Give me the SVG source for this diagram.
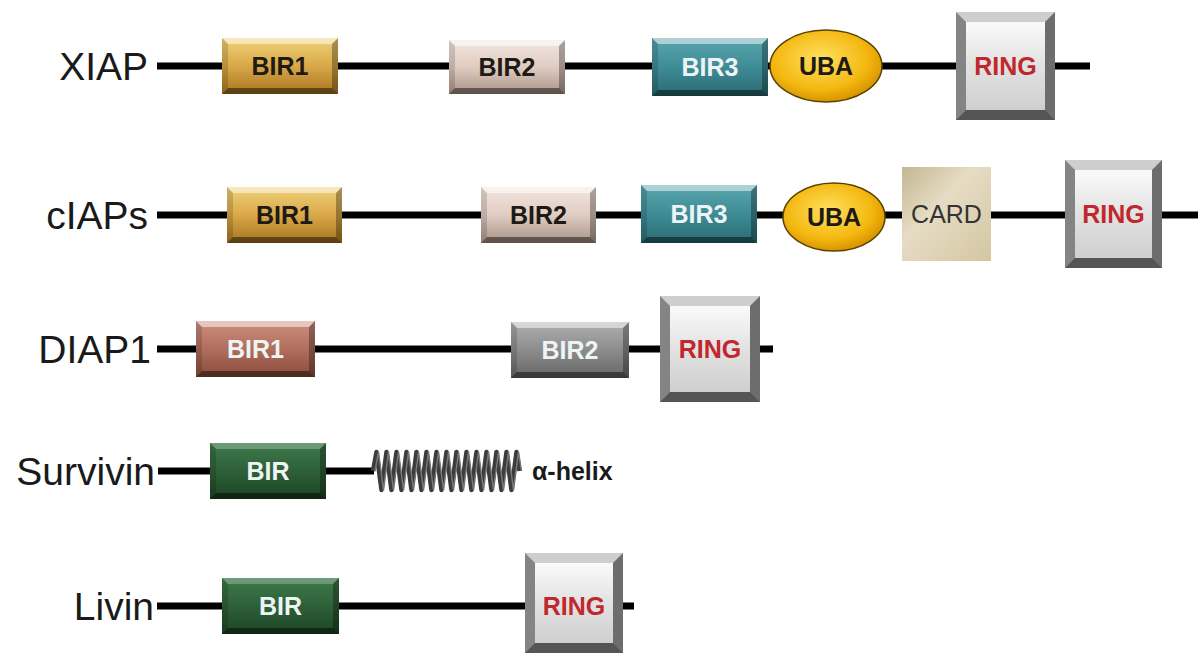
<svg xmlns="http://www.w3.org/2000/svg" width="1203" height="653" viewBox="0 0 1203 653">
<defs>
<style>
.lbl{font-family:"Liberation Sans",Arial,sans-serif;font-size:39px;fill:#1a1a1a;text-anchor:end}
.bt{font-family:"Liberation Sans",Arial,sans-serif;font-size:25px;font-weight:bold;text-anchor:middle}
.dk{fill:#1e1a14}.lt{fill:#eef4f4}.red{fill:#c0282e}
.ln{stroke:#000;stroke-width:7;fill:none}
.hl{fill:#fff;fill-opacity:.5}.sh{fill:#000;fill-opacity:.45}.sl{fill:#000;fill-opacity:.15}.sr{fill:#000;fill-opacity:.3}
.frame{fill:#9c9c9c}
</style>
<linearGradient id="gold" x1="0" y1="0" x2="0" y2="1"><stop offset="0" stop-color="#f0d27a"/><stop offset=".5" stop-color="#d9a848"/><stop offset="1" stop-color="#a8741f"/></linearGradient>
<linearGradient id="beige" x1="0" y1="0" x2="0" y2="1"><stop offset="0" stop-color="#f2e6e0"/><stop offset=".5" stop-color="#e0ccc2"/><stop offset="1" stop-color="#a99388"/></linearGradient>
<linearGradient id="teal" x1="0" y1="0" x2="0" y2="1"><stop offset="0" stop-color="#5aa6ae"/><stop offset=".5" stop-color="#3e8c96"/><stop offset="1" stop-color="#2a6a72"/></linearGradient>
<linearGradient id="brown" x1="0" y1="0" x2="0" y2="1"><stop offset="0" stop-color="#cf9080"/><stop offset=".5" stop-color="#b06e5c"/><stop offset="1" stop-color="#8a4c3c"/></linearGradient>
<linearGradient id="gray" x1="0" y1="0" x2="0" y2="1"><stop offset="0" stop-color="#b0b0b0"/><stop offset=".5" stop-color="#8c8c8c"/><stop offset="1" stop-color="#666"/></linearGradient>
<linearGradient id="green" x1="0" y1="0" x2="0" y2="1"><stop offset="0" stop-color="#3e7a4c"/><stop offset=".5" stop-color="#2e6038"/><stop offset="1" stop-color="#1e4426"/></linearGradient>
<linearGradient id="silver" x1="0" y1="0" x2="0" y2="1"><stop offset="0" stop-color="#fafafa"/><stop offset=".5" stop-color="#e2e2e2"/><stop offset="1" stop-color="#cfcfcf"/></linearGradient>
<linearGradient id="card" x1="0" y1="0" x2="1" y2="1"><stop offset="0" stop-color="#c4b692"/><stop offset=".4" stop-color="#e6dcc4"/><stop offset="1" stop-color="#d4c6a2"/></linearGradient>
<radialGradient id="uba" cx=".45" cy=".4" r=".6"><stop offset="0" stop-color="#ffe060"/><stop offset=".7" stop-color="#f4b810"/><stop offset="1" stop-color="#d89400"/></radialGradient>
</defs>
<rect width="1203" height="653" fill="#fff"/>

<g id="connectors">
<line class="ln" x1="157" y1="66" x2="1090" y2="66"/>
<line class="ln" x1="157" y1="215" x2="1198" y2="215"/>
<line class="ln" x1="157" y1="349" x2="773" y2="349"/>
<line class="ln" x1="158" y1="471" x2="374" y2="471"/>
<line class="ln" x1="157" y1="606" x2="634" y2="606"/>
</g>

<g id="labels">
<text class="lbl" x="148" y="80">XIAP</text>
<text class="lbl" x="148" y="229">cIAPs</text>
<text class="lbl" x="151" y="363">DIAP1</text>
<text class="lbl" x="155" y="485">Survivin</text>
<text class="lbl" x="154" y="620">Livin</text>
</g>

<g id="xiap-bir1" transform="translate(222,38)">
<rect width="116" height="56" fill="url(#gold)"/>
<path class="hl" d="M0,0H116L110,6H6Z"/><path class="sh" d="M0,56H116L110,50H6Z"/><path class="sl" d="M0,0L6,6V50L0,56Z"/><path class="sr" d="M116,0L110,6V50L116,56Z"/>
<text class="bt dk" x="58" y="37">BIR1</text>
</g>
<g id="xiap-bir2" transform="translate(449,40)">
<rect width="116" height="54" fill="url(#beige)"/>
<path class="hl" d="M0,0H116L110,6H6Z"/><path class="sh" d="M0,54H116L110,48H6Z"/><path class="sl" d="M0,0L6,6V48L0,54Z"/><path class="sr" d="M116,0L110,6V48L116,54Z"/>
<text class="bt dk" x="58" y="36">BIR2</text>
</g>
<g id="xiap-bir3" transform="translate(652,38)">
<rect width="116" height="58" fill="url(#teal)"/>
<path class="hl" d="M0,0H116L110,6H6Z"/><path class="sh" d="M0,58H116L110,52H6Z"/><path class="sl" d="M0,0L6,6V52L0,58Z"/><path class="sr" d="M116,0L110,6V52L116,58Z"/>
<text class="bt lt" x="58" y="38">BIR3</text>
</g>
<g id="xiap-uba">
<ellipse cx="826" cy="66" rx="56" ry="36" fill="url(#uba)" stroke="#5a4300" stroke-width="1.5"/>
<text class="bt dk" x="826" y="75">UBA</text>
</g>
<g id="xiap-ring" transform="translate(956,12)">
<rect class="frame" width="99" height="108"/>
<path class="hl" d="M0,0H99L89,10H10Z"/><path class="sh" d="M0,108H99L89,98H10Z"/><path class="sl" d="M0,0L10,10V98L0,108Z"/><path class="sr" d="M99,0L89,10V98L99,108Z"/>
<rect x="10" y="10" width="79" height="88" fill="url(#silver)"/>
<text class="bt red" x="49.5" y="63">RING</text>
</g>

<g id="ciaps-bir1" transform="translate(227,187)">
<rect width="115" height="56" fill="url(#gold)"/>
<path class="hl" d="M0,0H115L109,6H6Z"/><path class="sh" d="M0,56H115L109,50H6Z"/><path class="sl" d="M0,0L6,6V50L0,56Z"/><path class="sr" d="M115,0L109,6V50L115,56Z"/>
<text class="bt dk" x="57.5" y="37">BIR1</text>
</g>
<g id="ciaps-bir2" transform="translate(481,187)">
<rect width="115" height="56" fill="url(#beige)"/>
<path class="hl" d="M0,0H115L109,6H6Z"/><path class="sh" d="M0,56H115L109,50H6Z"/><path class="sl" d="M0,0L6,6V50L0,56Z"/><path class="sr" d="M115,0L109,6V50L115,56Z"/>
<text class="bt dk" x="57.5" y="37">BIR2</text>
</g>
<g id="ciaps-bir3" transform="translate(641,185)">
<rect width="116" height="58" fill="url(#teal)"/>
<path class="hl" d="M0,0H116L110,6H6Z"/><path class="sh" d="M0,58H116L110,52H6Z"/><path class="sl" d="M0,0L6,6V52L0,58Z"/><path class="sr" d="M116,0L110,6V52L116,58Z"/>
<text class="bt lt" x="58" y="38">BIR3</text>
</g>
<g id="ciaps-uba">
<ellipse cx="834" cy="217" rx="51" ry="34" fill="url(#uba)" stroke="#5a4300" stroke-width="1.5"/>
<text class="bt dk" x="834" y="226">UBA</text>
</g>
<g id="ciaps-card" transform="translate(902,167)">
<rect width="89" height="94" fill="url(#card)"/>
<text x="44.5" y="56" font-family="Liberation Sans, Arial, sans-serif" font-size="25" fill="#333" text-anchor="middle">CARD</text>
</g>
<g id="ciaps-ring" transform="translate(1065,160)">
<rect class="frame" width="97" height="108"/>
<path class="hl" d="M0,0H97L87,10H10Z"/><path class="sh" d="M0,108H97L87,98H10Z"/><path class="sl" d="M0,0L10,10V98L0,108Z"/><path class="sr" d="M97,0L87,10V98L97,108Z"/>
<rect x="10" y="10" width="77" height="88" fill="url(#silver)"/>
<text class="bt red" x="48.5" y="63">RING</text>
</g>

<g id="diap1-bir1" transform="translate(196,321)">
<rect width="119" height="56" fill="url(#brown)"/>
<path class="hl" d="M0,0H119L113,6H6Z"/><path class="sh" d="M0,56H119L113,50H6Z"/><path class="sl" d="M0,0L6,6V50L0,56Z"/><path class="sr" d="M119,0L113,6V50L119,56Z"/>
<text class="bt lt" x="59.5" y="37">BIR1</text>
</g>
<g id="diap1-bir2" transform="translate(511,322)">
<rect width="118" height="56" fill="url(#gray)"/>
<path class="hl" d="M0,0H118L112,6H6Z"/><path class="sh" d="M0,56H118L112,50H6Z"/><path class="sl" d="M0,0L6,6V50L0,56Z"/><path class="sr" d="M118,0L112,6V50L118,56Z"/>
<text class="bt lt" x="59" y="37">BIR2</text>
</g>
<g id="diap1-ring" transform="translate(660,296)">
<rect class="frame" width="100" height="106"/>
<path class="hl" d="M0,0H100L90,10H10Z"/><path class="sh" d="M0,106H100L90,96H10Z"/><path class="sl" d="M0,0L10,10V96L0,106Z"/><path class="sr" d="M100,0L90,10V96L100,106Z"/>
<rect x="10" y="10" width="80" height="86" fill="url(#silver)"/>
<text class="bt red" x="50" y="62">RING</text>
</g>

<g id="survivin-bir" transform="translate(210,443)">
<rect width="116" height="56" fill="url(#green)"/>
<path class="hl" d="M0,0H116L110,6H6Z" style="fill-opacity:.25"/><path class="sh" d="M0,56H116L110,50H6Z"/><path class="sl" d="M0,0L6,6V50L0,56Z"/><path class="sr" d="M116,0L110,6V50L116,56Z"/>
<text class="bt lt" x="58" y="37">BIR</text>
</g>
<g id="survivin-helix">
<path d="M373,471l3.5,-19l5,38l5,-38l5,38l5,-38l5,38l5,-38l5,38l5,-38l5,38l5,-38l5,38l5,-38l5,38l5,-38l5,38l5,-38l5,38l5,-38l5,38l5,-38l5,38l5,-38l5,38l5,-38l5,38l5,-38l5,38l5,-38l3,19" fill="none" stroke="#3c3c3c" stroke-width="4.5" stroke-linejoin="round"/>
<path d="M375,471l3.5,-19l5,38l5,-38l5,38l5,-38l5,38l5,-38l5,38l5,-38l5,38l5,-38l5,38l5,-38l5,38l5,-38l5,38l5,-38l5,38l5,-38l5,38l5,-38l5,38l5,-38l5,38l5,-38l5,38l5,-38l5,38l5,-38l3,19" fill="none" stroke="#777" stroke-width="1.5" stroke-linejoin="round"/>
<text x="532" y="480" font-family="Liberation Sans, Arial, sans-serif" font-size="25" font-weight="bold" fill="#1a1a1a">α-helix</text>
</g>

<g id="livin-bir" transform="translate(222,578)">
<rect width="117" height="56" fill="url(#green)"/>
<path class="hl" d="M0,0H117L111,6H6Z" style="fill-opacity:.25"/><path class="sh" d="M0,56H117L111,50H6Z"/><path class="sl" d="M0,0L6,6V50L0,56Z"/><path class="sr" d="M117,0L111,6V50L117,56Z"/>
<text class="bt lt" x="58.5" y="37">BIR</text>
</g>
<g id="livin-ring" transform="translate(525,553)">
<rect class="frame" width="98" height="100"/>
<path class="hl" d="M0,0H98L88,10H10Z"/><path class="sh" d="M0,100H98L88,90H10Z"/><path class="sl" d="M0,0L10,10V90L0,100Z"/><path class="sr" d="M98,0L88,10V90L98,100Z"/>
<rect x="10" y="10" width="78" height="80" fill="url(#silver)"/>
<text class="bt red" x="49" y="62">RING</text>
</g>
</svg>
